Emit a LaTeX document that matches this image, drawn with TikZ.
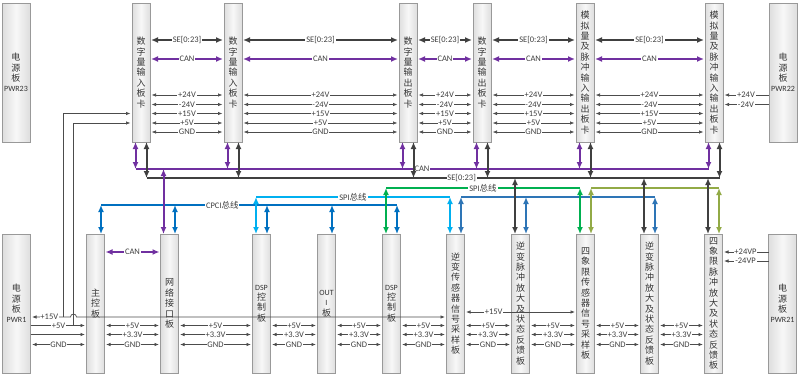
\documentclass[tikz,border=0pt]{standalone}
\usepackage{fontspec}
\setmainfont{Carlito}
\newfontfamily\cjk{Noto Sans CJK SC}
\usepackage{tikz}
\usetikzlibrary{positioning,arrows.meta}
\definecolor{sedark}{RGB}{64,64,64}
\definecolor{canpurple}{RGB}{112,48,160}
\definecolor{cpciblue}{RGB}{0,112,192}
\definecolor{spilight}{RGB}{0,176,240}
\definecolor{spigreen}{RGB}{0,176,80}
\definecolor{spisteel}{RGB}{46,117,182}
\definecolor{spiolive}{RGB}{146,170,70}
\newcommand{\bdlat}[1]{{\rmfamily\fontsize{8}{10.4}\selectfont #1}}

\begin{document}
\begin{tikzpicture}[
    x=1pt, y=-1pt,
    every node/.style={font=\fontsize{8.5}{9}\selectfont},
    board/.style={rectangle, draw=black!40, line width=0.8pt, outer sep=0pt, left color=black!13, right color=black!13, middle color=black!3, minimum width=18pt, minimum height=139pt, inner sep=0pt, align=center, text=black!80, font=\cjk\fontsize{9}{10.4}\selectfont},
    power/.style={board, minimum width=28pt},
    lbl/.style={fill=white, inner sep=0.8pt, text=sedark},
    rail/.style={>={Latex[length=4.5pt,width=3.5pt,sep=1.5pt]}, draw=black!70, line width=0.7pt},
    heavy/.style={>={Latex[length=7pt,width=6pt,sep=1pt]}, line width=2.4pt},
    tap/.style={>={Latex[length=7pt,width=6pt]}, <->, line width=2pt},
    bus/.style={line width=2pt}
]
\useasboundingbox (0,0) rectangle (800,375);

% Upper rack
\node[power] (pwr23) at (16,72.5) {电\\源\\板\\\bdlat{PWR23}};
\node[board, right=102pt of pwr23] (di1) {数\\字\\量\\输\\入\\板\\卡};
\node[board, right=74pt of di1] (di2) {数\\字\\量\\输\\入\\板\\卡};
\node[board, right=157pt of di2] (do1) {数\\字\\量\\输\\出\\板\\卡};
\node[board, right=56pt of do1] (do2) {数\\字\\量\\输\\出\\板\\卡};
\node[board, right=85pt of do2] (aio1) {模\\拟\\量\\及\\脉\\冲\\输\\入\\输\\出\\板\\卡};
\node[board, right=111pt of aio1] (aio2) {模\\拟\\量\\及\\脉\\冲\\输\\入\\输\\出\\板\\卡};
\node[power, right=46pt of aio2] (pwr22) {电\\源\\板\\\bdlat{PWR22}};

% Lower rack
\node[power] (pwr1) at (16.5,303.5) {电\\源\\板\\\bdlat{PWR1}};
\node[board, right=56pt of pwr1] (mcu) {主\\控\\板};
\node[board, right=56pt of mcu] (net) {网\\络\\接\\口\\板};
\node[board, right=74pt of net] (dsp1) {\bdlat{DSP}\\控\\制\\板};
\node[board, right=47pt of dsp1] (outi) {\bdlat{OUT}\\\bdlat{I}\\板};
\node[board, right=47pt of outi] (dsp2) {\bdlat{DSP}\\控\\制\\板};
\node[board, right=46pt of dsp2] (invs) {逆\\变\\传\\感\\器\\信\\号\\采\\样\\板};
\node[board, right=47pt of invs] (invp1) {逆\\变\\脉\\冲\\放\\大\\及\\状\\态\\反\\馈\\板};
\node[board, right=47pt of invp1] (fqs) {四\\象\\限\\传\\感\\器\\信\\号\\采\\样\\板};
\node[board, right=46pt of fqs] (invp2) {逆\\变\\脉\\冲\\放\\大\\及\\状\\态\\反\\馈\\板};
\node[board, right=46pt of invp2] (fqp) {四\\象\\限\\脉\\冲\\放\\大\\及\\状\\态\\反\\馈\\板};
\node[power, right=46pt of fqp] (pwr21) {电\\源\\板\\\bdlat{PWR21}};

% Signal and supply levels
\coordinate (tse) at (0,40);
\coordinate (tcan) at (0,59);
\coordinate (t24p) at (0,95);
\coordinate (t24n) at (0,104.5);
\coordinate (t15) at (0,113.5);
\coordinate (t5) at (0,123);
\coordinate (tgnd) at (0,132);
\coordinate (canbus) at (0,169);
\coordinate (sebus) at (0,178);
\coordinate (spib) at (0,188);
\coordinate (spia) at (0,197);
\coordinate (cpcibus) at (0,205);
\coordinate (bvp) at (0,252);
\coordinate (bvn) at (0,261);
\coordinate (b15b) at (0,312);
\coordinate (b15a) at (0,317);
\coordinate (b5) at (0,325.5);
\coordinate (b33) at (0,334.5);
\coordinate (bgnd) at (0,344.5);
\coordinate (j15) at (63,317);
\coordinate (j5) at (73.5,325.5);

% Upper backplane
\foreach \a/\b in {di1/di2, di2/do1, do1/do2, do2/aio1, aio1/aio2} {
  \draw[heavy, sedark, <->] (\a.east |- tse) -- node[lbl]{SE[0:23]} (\b.west |- tse);
  \draw[heavy, canpurple, <->] (\a.east |- tcan) -- node[lbl]{CAN} (\b.west |- tcan);
  \draw[rail, <->] (\a.east |- t24p) -- node[lbl]{+24V} (\b.west |- t24p);
  \draw[rail, <->] (\a.east |- t24n) -- node[lbl]{-24V} (\b.west |- t24n);
  \draw[rail, <->] (\a.east |- t15) -- node[lbl]{+15V} (\b.west |- t15);
  \draw[rail, <->] (\a.east |- t5) -- node[lbl]{+5V} (\b.west |- t5);
  \draw[rail, <->] (\a.east |- tgnd) -- node[lbl]{GND} (\b.west |- tgnd);
}
\draw[rail, ->] (pwr22.west |- t24p) -- node[lbl]{+24V} (aio2.east |- t24p);
\draw[rail, ->] (pwr22.west |- t24n) -- node[lbl]{-24V} (aio2.east |- t24n);

% Buses between the racks
\draw[bus, canpurple] ([xshift=-5.5pt]di1.south |- canbus) -- node[lbl]{CAN} ([xshift=-5.5pt]aio2.south |- canbus);
\draw[bus, sedark] ([xshift=5.5pt]di1.south |- sebus) -- node[lbl, pos=.55]{SE[0:23]} ([xshift=5.5pt]aio2.south |- sebus);
\draw[bus, cpciblue] ([xshift=5.5pt]mcu.north |- cpcibus) -- node[lbl, pos=.41]{CPCI\cjk 总线} ([xshift=5.5pt]dsp2.north |- cpcibus);
\draw[bus, spilight] ([xshift=-5.5pt]dsp1.north |- spia) -- node[lbl]{SPI\cjk 总线} ([xshift=-5.5pt]invs.north |- spia);
\draw[bus, spigreen] ([xshift=-5.5pt]dsp2.north |- spib) -- node[lbl]{SPI\cjk 总线} ([xshift=-5.5pt]fqs.north |- spib);
\draw[bus, spisteel] ([xshift=5.5pt]invs.north |- spia) -- ([xshift=5.5pt]invp2.north |- spia);
\draw[bus, spiolive] ([xshift=5.5pt]fqs.north |- spib) -- ([xshift=5.5pt]fqp.north |- spib);

% Taps
\foreach \b in {di1, di2, do1, do2, aio1, aio2} {
  \draw[tap, canpurple] ([xshift=-5.5pt]\b.south) -- ([xshift=-5.5pt]\b.south |- canbus);
  \draw[tap, sedark] ([xshift=5.5pt]\b.south) -- ([xshift=5.5pt]\b.south |- sebus);
}
\draw[tap, canpurple] ([xshift=-6pt]net.north |- canbus) -- ([xshift=-6pt]net.north);
\foreach \b in {mcu, net, dsp1, outi, dsp2}
  \draw[tap, cpciblue] ([xshift=5.5pt]\b.north |- cpcibus) -- ([xshift=5.5pt]\b.north);
\draw[tap, spilight] ([xshift=-5.5pt]dsp1.north |- spia) -- ([xshift=-5.5pt]dsp1.north);
\draw[tap, spilight] ([xshift=-5.5pt]invs.north |- spia) -- ([xshift=-5.5pt]invs.north);
\draw[tap, spigreen] ([xshift=-5.5pt]dsp2.north |- spib) -- ([xshift=-5.5pt]dsp2.north);
\draw[tap, spigreen] ([xshift=-5.5pt]fqs.north |- spib) -- ([xshift=-5.5pt]fqs.north);
\foreach \b in {invs, invp1, invp2}
  \draw[tap, spisteel] ([xshift=5.5pt]\b.north |- spia) -- ([xshift=5.5pt]\b.north);
\foreach \b in {fqs, fqp}
  \draw[tap, spiolive] ([xshift=5.5pt]\b.north |- spib) -- ([xshift=5.5pt]\b.north);
\foreach \b in {invp1, invp2, fqp}
  \draw[tap, sedark] ([xshift=-5.5pt]\b.north |- sebus) -- ([xshift=-5.5pt]\b.north);

% Lower backplane
\foreach \a/\b in {mcu/net, net/dsp1, dsp1/outi, outi/dsp2, dsp2/invs, invs/invp1, invp1/fqs, fqs/invp2, invp2/fqp} {
  \draw[rail, <->] (\a.east |- b5) -- node[lbl]{+5V} (\b.west |- b5);
  \draw[rail, <->] (\a.east |- b33) -- node[lbl]{+3.3V} (\b.west |- b33);
  \draw[rail, <->] (\a.east |- bgnd) -- node[lbl]{GND} (\b.west |- bgnd);
}
\draw[heavy, canpurple, <->] (mcu.east |- bvp) -- node[lbl]{CAN} (net.west |- bvp);
\draw[rail, <->] (invs.east |- b15b) -- node[lbl, pos=.26]{+15V} (fqs.west |- b15b);
\draw[rail, ->] (pwr21.west |- bvp) -- node[lbl]{+24VP} (fqp.east |- bvp);
\draw[rail, ->] (pwr21.west |- bvn) -- node[lbl]{-24VP} (fqp.east |- bvn);

% Supplies from PWR1
\draw[rail, <->] (pwr1.east |- b15a) -- node[lbl, pos=.47]{+15V} ++(40,0) arc[start angle=180, end angle=360, radius=3] -- (invs.west |- b15a);
\draw[rail, ->] (j15) |- (di1.west |- t15);
\draw[rail, ->] (j5) |- (di1.west |- t5);
\draw[rail, ->] (pwr1.east |- b5) -- node[lbl]{+5V} (mcu.west |- b5);
\draw[rail, ->] (pwr1.east |- b33) -- (mcu.west |- b33);
\draw[rail, <->] (pwr1.east |- bgnd) -- node[lbl]{GND} (mcu.west |- bgnd);

\end{tikzpicture}
\end{document}
